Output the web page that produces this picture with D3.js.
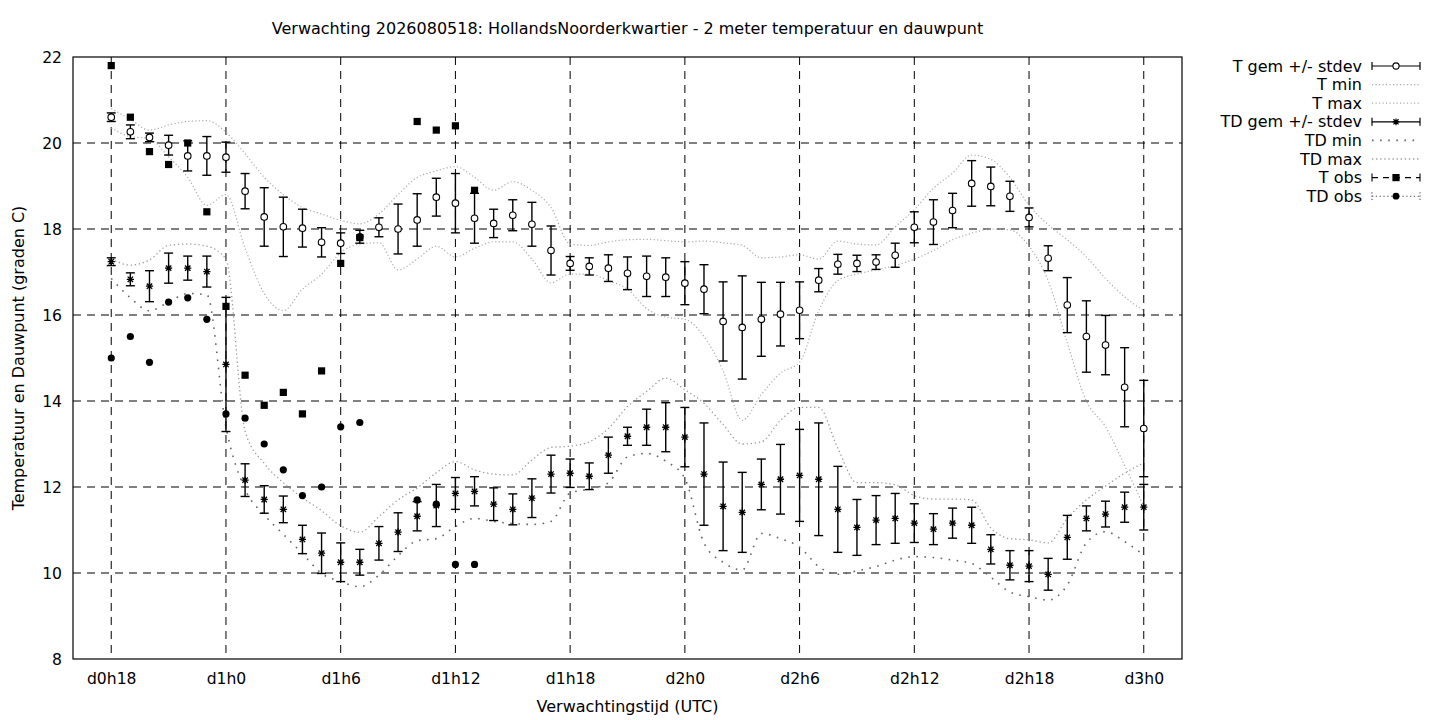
<!DOCTYPE html>
<html><head><meta charset="utf-8">
<script src="https://cdn.jsdelivr.net/npm/d3@7/dist/d3.min.js"></script>
<style>body{margin:0;background:#fff;} svg{display:block;font-family:"DejaVu Sans",sans-serif;}</style>
</head><body><svg id="c" width="1440" height="720"></svg>
<script>
// ---------- data (hours since d0h0) ----------
const hours = [18,19,20,21,22,23,24,25,26,27,28,29,30,31,32,33,34,35,36,37,38,39,40,41,42,43,44,45,46,47,48,49,50,51,52,53,54,55,56,57,58,59,60,61,62,63,64,65,66,67,68,69,70,71,72];
const tickHours = [18,24,30,36,42,48,54,60,66,72];
const tickLabels = ["d0h18","d1h0","d1h6","d1h12","d1h18","d2h0","d2h6","d2h12","d2h18","d3h0"];
const yTicks = [8,10,12,14,16,18,20,22];

const tMean = [20.60,20.26,20.13,19.95,19.70,19.70,19.67,18.88,18.28,18.05,18.02,17.69,17.67,17.82,18.04,18.00,18.21,18.74,18.60,18.25,18.13,18.32,18.11,17.50,17.20,17.13,17.09,16.97,16.90,16.88,16.74,16.60,15.85,15.71,15.90,16.02,16.11,16.81,17.18,17.20,17.23,17.39,18.04,18.16,18.43,19.06,18.99,18.76,18.27,17.32,16.23,15.50,15.30,14.32,13.36];
const tSd   = [0.10,0.16,0.10,0.23,0.35,0.45,0.35,0.41,0.68,0.69,0.44,0.34,0.24,0.15,0.22,0.58,0.61,0.44,0.69,0.58,0.33,0.36,0.51,0.57,0.16,0.20,0.31,0.38,0.47,0.45,0.50,0.57,0.92,1.20,0.86,0.74,0.66,0.27,0.23,0.19,0.17,0.28,0.36,0.52,0.40,0.53,0.45,0.35,0.22,0.29,0.64,0.83,0.69,0.92,1.12];
const tMin  = [20.35,20.15,20.10,19.68,19.20,18.55,18.80,17.55,16.50,16.10,16.60,16.95,17.45,17.65,17.68,17.05,17.30,17.60,17.35,17.55,17.70,17.70,17.30,16.75,16.95,16.95,16.80,16.60,16.15,15.95,15.90,15.50,14.70,13.55,14.15,14.65,14.90,16.10,16.80,16.95,17.05,17.15,17.30,17.50,17.75,17.90,18.00,17.98,17.60,16.80,15.35,14.00,13.40,12.50,11.55];
const tMax  = [20.80,20.55,20.30,20.42,20.50,20.52,20.25,19.75,19.20,18.80,18.50,18.35,18.20,18.12,18.35,18.80,19.20,19.35,19.45,19.20,18.90,19.10,18.90,18.50,17.65,17.62,17.70,17.75,17.76,17.73,17.70,17.72,17.68,17.62,17.33,17.35,17.40,17.30,17.72,17.65,17.63,18.05,18.45,18.95,19.30,19.72,19.62,19.20,18.55,18.10,17.75,17.35,16.85,16.42,16.10];

const tdMean = [17.24,16.83,16.67,17.09,17.09,17.01,14.85,12.16,11.71,11.48,10.78,10.46,10.25,10.25,10.69,10.95,11.32,11.57,11.85,11.90,11.60,11.48,11.74,12.30,12.32,12.25,12.74,13.18,13.39,13.39,13.16,12.30,11.55,11.41,12.06,12.18,12.27,12.18,11.48,11.06,11.23,11.27,11.16,11.02,11.16,11.11,10.55,10.18,10.16,9.97,10.83,11.27,11.37,11.53,11.53];
const tdSd   = [0.09,0.15,0.36,0.35,0.28,0.36,1.56,0.38,0.32,0.31,0.33,0.47,0.45,0.30,0.39,0.45,0.34,0.49,0.37,0.34,0.38,0.36,0.45,0.44,0.33,0.31,0.42,0.21,0.42,0.57,0.69,1.19,1.03,0.93,0.59,0.81,1.07,1.31,1.00,0.65,0.57,0.58,0.45,0.36,0.35,0.42,0.34,0.34,0.36,0.37,0.51,0.29,0.30,0.35,0.53];
const tdMin  = [16.85,16.40,16.10,16.30,16.50,16.47,13.40,11.95,11.35,10.90,10.45,9.99,9.80,9.68,9.95,10.40,10.75,10.80,11.08,11.27,11.20,11.15,11.13,11.20,11.86,11.95,12.10,12.70,12.78,12.60,12.20,10.70,10.25,10.07,10.92,10.80,10.60,10.15,9.97,10.05,10.15,10.30,10.38,10.36,10.30,10.22,9.90,9.56,9.45,9.37,9.72,10.70,10.96,10.73,10.42];
const tdMax  = [17.30,17.16,17.28,17.62,17.65,17.60,17.30,13.30,12.55,12.10,11.75,11.45,11.10,10.95,11.31,11.70,11.98,12.33,12.59,12.40,12.30,12.28,12.63,12.92,12.95,13.05,13.36,13.87,14.22,14.53,14.26,13.95,13.45,13.00,13.05,13.55,13.85,13.85,12.90,12.10,12.10,12.05,11.80,11.72,11.72,11.70,11.05,10.80,10.77,10.70,11.27,11.70,12.02,12.32,12.56];

const obsHours = [18,19,20,21,22,23,24,25,26,27,28,29,30,31,32,33,34,35,36,37];
const tObs  = [21.8,20.6,19.8,19.5,20.0,18.4,16.2,14.6,13.9,14.2,13.7,14.7,17.2,17.8,null,null,20.5,20.3,20.4,18.9];
const tdObs = [15.0,15.5,14.9,16.3,16.4,15.9,13.7,13.6,13.0,12.4,11.8,12.0,13.4,13.5,null,null,11.7,11.6,10.2,10.2];

const title = "Verwachting 2026080518: HollandsNoorderkwartier - 2 meter temperatuur en dauwpunt";
const xTitle = "Verwachtingstijd (UTC)";
const yTitle = "Temperatuur en Dauwpunt (graden C)";
const legendLabels = ["T gem +/- stdev","T min","T max","TD gem +/- stdev","TD min","TD max","T obs","TD obs"];

// ---------- layout ----------
const L = 73, R = 1182, T = 57, B = 659;
const svg = d3.select("#c");
const x = d3.scaleLinear().domain([16,74]).range([L,R]);
const y = d3.scaleLinear().domain([8,22]).range([B,T]);
const FS = 16, TFS = 15.6;

// grid
const grid = svg.append("g").attr("stroke","#000").attr("stroke-width",1).attr("stroke-dasharray","8,6");
tickHours.forEach(h => grid.append("line").attr("x1",x(h)).attr("x2",x(h)).attr("y1",T).attr("y2",B));
yTicks.filter(v => v>8 && v<22).forEach(v => grid.append("line").attr("x1",L).attr("x2",R).attr("y1",y(v)).attr("y2",y(v)));

// axes (no tick marks, labels only)
const xAxis = d3.axisBottom(x).tickValues(tickHours).tickFormat((d,i)=>tickLabels[i]).tickSize(0).tickPadding(14);
const gx = svg.append("g").attr("transform",`translate(0,${B})`).call(xAxis);
gx.select(".domain").remove();
gx.selectAll("text").attr("font-size",TFS).attr("font-family","DejaVu Sans").attr("fill","#000");
const yAxis = d3.axisLeft(y).tickValues(yTicks).tickSize(0).tickPadding(11);
const gy = svg.append("g").attr("transform",`translate(${L},0)`).call(yAxis);
gy.select(".domain").remove();
gy.selectAll("text").attr("font-size",TFS).attr("font-family","DejaVu Sans").attr("fill","#000");

// frame
svg.append("rect").attr("x",L).attr("y",T).attr("width",R-L).attr("height",B-T).attr("fill","none").attr("stroke","#000").attr("stroke-width",1.2);

// titles
svg.append("text").attr("x",(L+R)/2).attr("y",34).attr("text-anchor","middle").attr("font-size",FS).text(title);
svg.append("text").attr("x",(L+R)/2).attr("y",712).attr("text-anchor","middle").attr("font-size",FS).text(xTitle);
svg.append("text").attr("transform","translate(24,358) rotate(-90)").attr("text-anchor","middle").attr("font-size",FS).text(yTitle);

// envelope lines
const line = d3.line().x(d=>x(d[0])).y(d=>y(d[1])).curve(d3.curveMonotoneX);
const styles = {
  tmin:  {stroke:"#aaa", w:1.2, dash:"1.2,2.3"},
  tmax:  {stroke:"#aaa", w:1.2, dash:"1.2,2.3"},
  tdmin: {stroke:"#666", w:1.6, dash:"1.6,6.5"},
  tdmax: {stroke:"#999", w:1.3, dash:"1.3,2.8"}
};
[[tMin,"tmin"],[tMax,"tmax"],[tdMin,"tdmin"],[tdMax,"tdmax"]].forEach(([arr,k]) => {
  const s = styles[k];
  svg.append("path").datum(hours.map((h,i)=>[h,arr[i]])).attr("d",line)
    .attr("fill","none").attr("stroke",s.stroke).attr("stroke-width",s.w).attr("stroke-dasharray",s.dash);
});

// error bars
function errBars(mean, sd) {
  const g = svg.append("g").attr("stroke","#000").attr("stroke-width",1.4);
  hours.forEach((h,i) => {
    const cx = x(h), y1 = y(mean[i]-sd[i]), y2 = y(mean[i]+sd[i]);
    g.append("line").attr("x1",cx).attr("x2",cx).attr("y1",y1).attr("y2",y2);
    g.append("line").attr("x1",cx-4.5).attr("x2",cx+4.5).attr("y1",y1).attr("y2",y1);
    g.append("line").attr("x1",cx-4.5).attr("x2",cx+4.5).attr("y1",y2).attr("y2",y2);
  });
}
errBars(tMean,tSd);
errBars(tdMean,tdSd);

function asterisk(r){ const d=r*0.75; return `M${-r},0L${r},0M0,${-r}L0,${r}M${-d},${-d}L${d},${d}M${-d},${d}L${d},${-d}`; }

// markers
svg.append("g").selectAll("circle").data(hours).join("circle")
  .attr("cx",h=>x(h)).attr("cy",(h,i)=>y(tMean[i])).attr("r",3.3)
  .attr("fill","#fff").attr("stroke","#000").attr("stroke-width",1.1);
svg.append("g").selectAll("path").data(hours).join("path")
  .attr("transform",(h,i)=>`translate(${x(h)},${y(tdMean[i])})`).attr("d",asterisk(3.6))
  .attr("fill","none").attr("stroke","#000").attr("stroke-width",1.3);
svg.append("g").selectAll("rect").data(obsHours.map((h,i)=>[h,tObs[i]]).filter(d=>d[1]!==null)).join("rect")
  .attr("x",d=>x(d[0])-3.6).attr("y",d=>y(d[1])-3.6).attr("width",7.2).attr("height",7.2).attr("fill","#000");
svg.append("g").selectAll("circle").data(obsHours.map((h,i)=>[h,tdObs[i]]).filter(d=>d[1]!==null)).join("circle")
  .attr("cx",d=>x(d[0])).attr("cy",d=>y(d[1])).attr("r",3.6).attr("fill","#000");

// legend
const lg = svg.append("g");
const lx0 = 1372, lx1 = 1420, lTextX = 1362, ly0 = 66, lStep = 18.6;
legendLabels.forEach((lab,i) => {
  const yy = ly0 + i*lStep;
  lg.append("text").attr("x",lTextX).attr("y",yy).attr("dy","0.35em").attr("text-anchor","end").attr("font-size",FS).text(lab);
  const mid = (lx0+lx1)/2;
  if (i===0 || i===3) {
    lg.append("line").attr("x1",lx0).attr("x2",lx1).attr("y1",yy).attr("y2",yy).attr("stroke","#000").attr("stroke-width",1.2);
    [lx0,lx1].forEach(xx=>lg.append("line").attr("x1",xx).attr("x2",xx).attr("y1",yy-4).attr("y2",yy+4).attr("stroke","#000").attr("stroke-width",1.2));
    if (i===0) lg.append("circle").attr("cx",mid).attr("cy",yy).attr("r",3.1).attr("fill","#fff").attr("stroke","#000").attr("stroke-width",1.1);
    else lg.append("path").attr("transform",`translate(${mid},${yy})`).attr("d",asterisk(3.4)).attr("stroke","#000").attr("stroke-width",1.2).attr("fill","none");
  } else if (i===1 || i===2 || i===4 || i===5) {
    const s = styles[["","tmin","tmax","","tdmin","tdmax"][i]];
    lg.append("line").attr("x1",lx0).attr("x2",lx1).attr("y1",yy).attr("y2",yy).attr("stroke",s.stroke).attr("stroke-width",s.w).attr("stroke-dasharray",s.dash);
  } else {
    const dash = i===6 ? "6,5" : "1.3,2.5";
    const col = i===6 ? "#000" : "#555";
    lg.append("line").attr("x1",lx0).attr("x2",lx1).attr("y1",yy).attr("y2",yy).attr("stroke",col).attr("stroke-width",1.1).attr("stroke-dasharray",dash);
    [lx0,lx1].forEach(xx=>lg.append("line").attr("x1",xx).attr("x2",xx).attr("y1",yy-4).attr("y2",yy+4).attr("stroke",col).attr("stroke-width",1.1).attr("stroke-dasharray",i===6?null:"1.3,2"));
    if (i===6) lg.append("rect").attr("x",mid-3.6).attr("y",yy-3.6).attr("width",7.2).attr("height",7.2).attr("fill","#000");
    else lg.append("circle").attr("cx",mid).attr("cy",yy).attr("r",3.4).attr("fill","#000");
  }
});
</script></body></html>
